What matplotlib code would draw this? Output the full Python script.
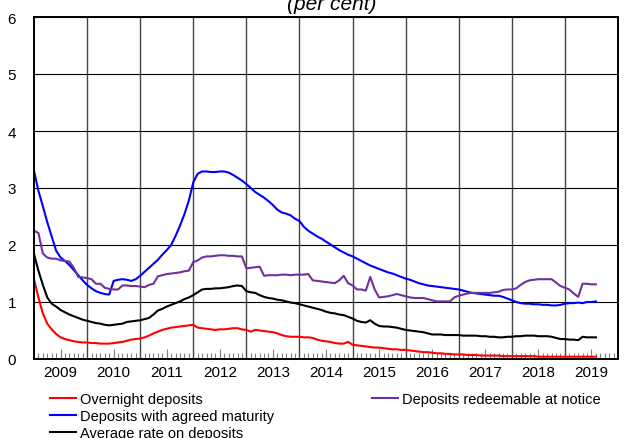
import numpy as np
import matplotlib
matplotlib.use("Agg")
import matplotlib.pyplot as plt
from matplotlib.lines import Line2D

plt.rcParams['font.family'] = ['Liberation Sans', 'DejaVu Sans']

# monthly observations, Jan 2009 - Aug 2019 (per cent)
overnight = [
    1.40, 1.08, 0.80, 0.62, 0.52, 0.44, 0.38, 0.35, 0.33, 0.31, 0.30, 0.29,  # 2009
    0.29, 0.28, 0.28, 0.27, 0.27, 0.27, 0.28, 0.29, 0.30, 0.32, 0.34, 0.35,  # 2010
    0.36, 0.38, 0.41, 0.45, 0.48, 0.51, 0.53, 0.55, 0.56, 0.57, 0.58, 0.59,  # 2011
    0.60, 0.55, 0.54, 0.53, 0.52, 0.51, 0.52, 0.52, 0.53, 0.54, 0.54, 0.52,  # 2012
    0.51, 0.48, 0.51, 0.50, 0.49, 0.48, 0.47, 0.45, 0.42, 0.40, 0.39, 0.39,  # 2013
    0.39, 0.38, 0.38, 0.37, 0.34, 0.32, 0.31, 0.30, 0.28, 0.27, 0.27, 0.30,  # 2014
    0.25, 0.24, 0.23, 0.22, 0.21, 0.20, 0.20, 0.19, 0.18, 0.17, 0.17, 0.16,  # 2015
    0.16, 0.15, 0.14, 0.13, 0.12, 0.12, 0.11, 0.10, 0.10, 0.09, 0.09, 0.08,  # 2016
    0.08, 0.08, 0.07, 0.07, 0.07, 0.06, 0.06, 0.06, 0.06, 0.06, 0.05, 0.05,  # 2017
    0.05, 0.05, 0.05, 0.05, 0.05, 0.05, 0.04, 0.04, 0.04, 0.04, 0.04, 0.04,  # 2018
    0.04, 0.04, 0.04, 0.04, 0.04, 0.04, 0.04, 0.04,                          # 2019
]
agreed = [
    3.30, 2.95, 2.68, 2.40, 2.15, 1.90, 1.78, 1.72, 1.65, 1.56, 1.47, 1.38,
    1.30, 1.24, 1.19, 1.16, 1.14, 1.13, 1.37, 1.39, 1.40, 1.39, 1.37, 1.40,
    1.46, 1.53, 1.60, 1.67, 1.74, 1.83, 1.91, 2.00, 2.16, 2.34, 2.54, 2.78,
    3.10, 3.25, 3.29, 3.29, 3.28, 3.28, 3.29, 3.29, 3.27, 3.23, 3.18, 3.13,
    3.07, 3.00, 2.93, 2.88, 2.83, 2.77, 2.70, 2.62, 2.57, 2.55, 2.52, 2.46,
    2.42, 2.32, 2.25, 2.20, 2.15, 2.11, 2.06, 2.01, 1.96, 1.91, 1.87, 1.83,
    1.80, 1.76, 1.72, 1.68, 1.64, 1.61, 1.58, 1.55, 1.52, 1.50, 1.47, 1.44,
    1.41, 1.39, 1.36, 1.33, 1.31, 1.29, 1.28, 1.27, 1.26, 1.25, 1.24, 1.23,
    1.22, 1.20, 1.18, 1.16, 1.15, 1.14, 1.13, 1.12, 1.11, 1.11, 1.09, 1.06,
    1.03, 1.00, 0.98, 0.97, 0.97, 0.96, 0.96, 0.95, 0.95, 0.94, 0.94, 0.95,
    0.97, 0.98, 0.98, 0.99, 0.98, 1.00, 1.00, 1.01,
]
notice = [
    2.25, 2.21, 1.85, 1.78, 1.76, 1.76, 1.73, 1.72, 1.71, 1.60, 1.44, 1.43,
    1.42, 1.40, 1.32, 1.32, 1.25, 1.23, 1.22, 1.22, 1.29, 1.29, 1.28, 1.28,
    1.27, 1.26, 1.30, 1.32, 1.45, 1.47, 1.49, 1.50, 1.51, 1.52, 1.54, 1.55,
    1.70, 1.73, 1.78, 1.80, 1.80, 1.81, 1.82, 1.82, 1.81, 1.81, 1.80, 1.80,
    1.59, 1.60, 1.61, 1.62, 1.46, 1.47, 1.47, 1.47, 1.48, 1.48, 1.47, 1.48,
    1.48, 1.48, 1.49, 1.38, 1.37, 1.36, 1.35, 1.34, 1.33, 1.38, 1.46, 1.33,
    1.29, 1.22, 1.22, 1.20, 1.44, 1.22, 1.08, 1.09, 1.10, 1.12, 1.14, 1.12,
    1.10, 1.08, 1.07, 1.07, 1.07, 1.05, 1.03, 1.01, 1.01, 1.01, 1.01, 1.08,
    1.11, 1.13, 1.15, 1.16, 1.16, 1.16, 1.16, 1.16, 1.17, 1.18, 1.21, 1.22,
    1.22, 1.24, 1.30, 1.35, 1.38, 1.39, 1.40, 1.40, 1.40, 1.40, 1.34, 1.28,
    1.25, 1.22, 1.15, 1.09, 1.32, 1.32, 1.31, 1.31,
]
average = [
    1.84, 1.55, 1.30, 1.08, 0.97, 0.92, 0.86, 0.82, 0.78, 0.75, 0.72, 0.69,
    0.67, 0.65, 0.63, 0.62, 0.60, 0.59, 0.60, 0.61, 0.62, 0.65, 0.66, 0.67,
    0.68, 0.70, 0.72, 0.78, 0.85, 0.88, 0.92, 0.95, 0.98, 1.01, 1.05, 1.08,
    1.12, 1.17, 1.22, 1.23, 1.23, 1.24, 1.24, 1.25, 1.26, 1.28, 1.29, 1.28,
    1.19, 1.17, 1.16, 1.12, 1.09, 1.07, 1.06, 1.04, 1.03, 1.01, 0.99, 0.98,
    0.96, 0.94, 0.92, 0.90, 0.88, 0.86, 0.83, 0.81, 0.80, 0.78, 0.77, 0.74,
    0.71, 0.67, 0.65, 0.64, 0.68, 0.62, 0.58, 0.57, 0.57, 0.56, 0.55, 0.53,
    0.51, 0.50, 0.49, 0.48, 0.47, 0.45, 0.43, 0.43, 0.43, 0.42, 0.42, 0.42,
    0.42, 0.41, 0.41, 0.41, 0.41, 0.40, 0.40, 0.39, 0.39, 0.38, 0.38, 0.39,
    0.39, 0.40, 0.40, 0.41, 0.41, 0.41, 0.40, 0.40, 0.40, 0.39, 0.37, 0.35,
    0.35, 0.34, 0.34, 0.33, 0.39, 0.38, 0.38, 0.38,
]

years = list(range(2009, 2020))
t = 2009 + np.arange(len(agreed)) / 12.0

fig = plt.figure(figsize=(6.44, 4.39), dpi=100)
ax = fig.add_axes([34/644, 1 - 360/439, 584/644, 342/439])

ax.plot(t, overnight, color='#ff0000', lw=1.5)
ax.plot(t, agreed, color='#0000ff', lw=1.5)
ax.plot(t, average, color='black', lw=1.5)
ax.plot(t, notice, color='#7030a0', lw=1.5)

ax.set_xlim(2009, 2020)
ax.set_ylim(0, 6)

# year boundaries as gridlines, months as small inner ticks
ax.set_xticks(years[1:])
ax.set_xticklabels([])
ax.tick_params(axis='x', which='major', length=0)
ax.set_xticks(2009 + np.arange(1, 132) / 12.0, minor=True)
ax.tick_params(axis='x', which='minor', direction='in', length=4, color='#808080', width=0.8)
ax.grid(axis='x', which='major', color='#444444', lw=1)
ax.grid(axis='y', color='black', lw=0.8)
ax.set_axisbelow(True)

sec = ax.secondary_xaxis('bottom')
sec.set_xticks([y + 0.5 for y in years])
sec.set_xticklabels([str(y) for y in years], fontsize=11)
sec.tick_params(direction='in', length=7, color='#808080', width=0.8, pad=4)
sec.spines['bottom'].set_visible(False)

ax.set_yticks(range(0, 7))
ax.tick_params(axis='y', length=0, labelsize=11, pad=13)

# right-hand scale (cut by the image edge, as in the source)
ax2 = ax.twinx()
ax2.set_ylim(0, 6)
ax2.set_yticks(range(0, 7))
ax2.tick_params(axis='y', length=0, labelsize=11, pad=22)

for a in (ax, ax2):
    for s in a.spines.values():
        s.set_linewidth(1.3)

fig.text(332/644, 1 - 10/439, '(per cent)', ha='center', va='baseline',
         fontsize=15, style='italic')

h1 = [Line2D([], [], color='#ff0000', lw=1.5),
      Line2D([], [], color='#0000ff', lw=1.5),
      Line2D([], [], color='black', lw=1.5)]
l1 = ['Overnight deposits', 'Deposits with agreed maturity', 'Average rate on deposits']
fig.legend(h1, l1, loc='upper left', bbox_to_anchor=(44/644, 1 - 387/439),
           frameon=False, fontsize=10.5, handlelength=1.8, handletextpad=0.25,
           labelspacing=0.2, borderaxespad=0, borderpad=0.4)
fig.legend([Line2D([], [], color='#7030a0', lw=1.5)], ['Deposits redeemable at notice'],
           loc='upper left', bbox_to_anchor=(366/644, 1 - 387/439),
           frameon=False, fontsize=10.5, handlelength=1.8, handletextpad=0.25,
           borderaxespad=0, borderpad=0.4)

fig.savefig('out.png', dpi=100)
